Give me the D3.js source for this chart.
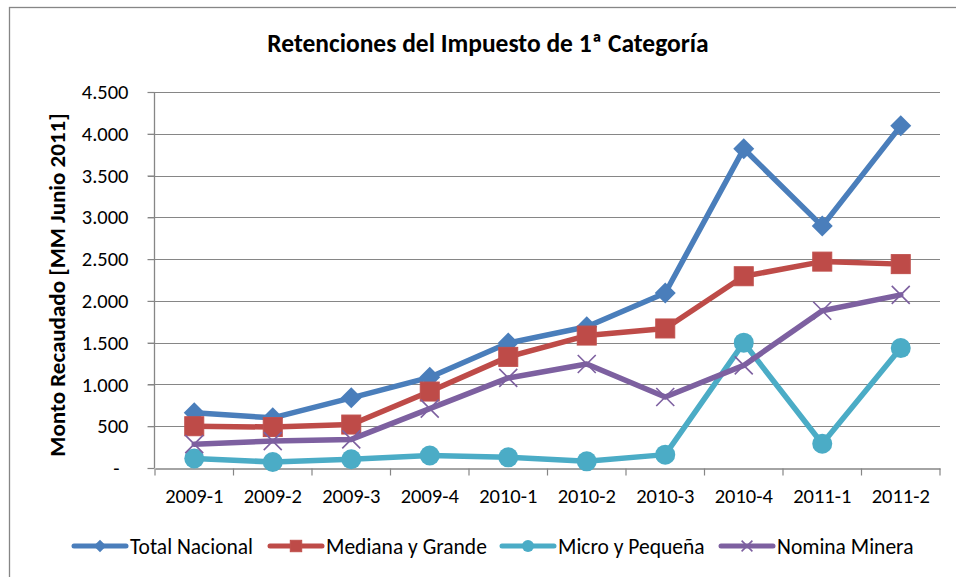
<!DOCTYPE html>
<html lang="es">
<head>
<meta charset="utf-8">
<title>Retenciones del Impuesto de 1ª Categoría</title>
<script src="https://cdn.jsdelivr.net/npm/d3@7"></script>
<style>
  body { margin: 0; background: #fff; }
  text { font-family: Carlito, Calibri, Lato, "Open Sans", sans-serif; fill: #000; }
</style>
</head>
<body>
<script>
// datos
var periodos = ["2009-1", "2009-2", "2009-3", "2009-4", "2010-1", "2010-2", "2010-3", "2010-4", "2011-1", "2011-2"];
var totalNacional   = [660, 600, 840, 1085, 1495, 1690, 2095, 3820, 2895, 4095];
var medianaGrande   = [500, 490, 520, 915, 1330, 1585, 1670, 2295, 2470, 2440];
var microPequena    = [115, 72, 105, 150, 128, 80, 160, 1500, 290, 1435];
var nominaMinera    = [285, 322, 342, 710, 1078, 1245, 850, 1228, 1882, 2072];
var ticksY = [0, 500, 1000, 1500, 2000, 2500, 3000, 3500, 4000, 4500];

var series = [
  { nombre: "Total Nacional",  valores: totalNacional, color: "#4A7EBB", marca: "diamante" },
  { nombre: "Mediana y Grande", valores: medianaGrande, color: "#BE4B48", marca: "cuadrado" },
  { nombre: "Micro y Pequeña", valores: microPequena,  color: "#4BACC6", marca: "circulo" },
  { nombre: "Nomina Minera",   valores: nominaMinera,  color: "#7D60A0", marca: "cruz" }
];

var width = 956, height = 577;
var margin = { left: 155, right: 16, top: 92, bottom: 109 };

var svg = d3.select("body").append("svg")
    .attr("width", width)
    .attr("height", height);

// marco del grafico
svg.append("rect")
    .attr("x", 9.5).attr("y", 7.5)
    .attr("width", width + 10).attr("height", height + 10)
    .attr("fill", "none")
    .attr("stroke", "#868686")
    .attr("stroke-width", 1.3);

var x = d3.scaleBand()
    .domain(periodos)
    .range([margin.left, width - margin.right]);

var y = d3.scaleLinear()
    .domain([0, 4500])
    .range([height - margin.bottom, margin.top]);

// titulo
svg.append("text")
    .attr("x", 488).attr("y", 52)
    .attr("text-anchor", "middle")
    .attr("font-size", "25.5px")
    .attr("font-weight", "bold")
    .text("Retenciones del Impuesto de 1ª Categoría");

// lineas de grilla
svg.append("g")
    .selectAll("line")
    .data(ticksY.slice(1))
    .join("line")
    .attr("x1", margin.left - 7).attr("x2", width - margin.right)
    .attr("y1", function(d) { return Math.round(y(d)) + 0.5; })
    .attr("y2", function(d) { return Math.round(y(d)) + 0.5; })
    .attr("stroke", "#868686")
    .attr("stroke-width", 1.2);

// eje y
var ejeY = svg.append("g")
    .attr("transform", "translate(" + (margin.left - 0.5) + ",0)")
    .call(d3.axisLeft(y)
        .tickValues(ticksY)
        .tickSize(7)
        .tickPadding(19)
        .tickFormat(function(d) { return d === 0 ? "-" : d3.format(",")(d).replace(/,/g, "."); }));
ejeY.select(".domain").attr("stroke", "#868686").attr("stroke-width", 1.3).attr("d", "M0," + y(4500) + "V" + y(0));
ejeY.selectAll(".tick line").attr("stroke", "#868686").attr("stroke-width", 1.2);
ejeY.selectAll("text").attr("font-size", "20.5px")
    .attr("dx", function(d) { return d === 0 ? -9 : 0; });

// eje x
var ejeX = svg.append("g")
    .attr("transform", "translate(0," + (Math.round(y(0)) + 0.5) + ")")
    .call(d3.axisBottom(x).tickSize(0).tickPadding(20));
ejeX.select(".domain").attr("stroke", "#868686").attr("stroke-width", 1.3);
ejeX.selectAll("text").attr("font-size", "20.5px");
ejeX.selectAll(".marca")
    .data(d3.range(periodos.length + 1))
    .join("line")
    .attr("class", "marca")
    .attr("x1", function(i) { return margin.left + i * x.step(); })
    .attr("x2", function(i) { return margin.left + i * x.step(); })
    .attr("y1", 0).attr("y2", 7)
    .attr("stroke", "#868686")
    .attr("stroke-width", 1.2);

// titulo eje y
svg.append("text")
    .attr("transform", "translate(65,285) rotate(-90)")
    .attr("text-anchor", "middle")
    .attr("font-size", "23px")
    .attr("font-weight", "bold")
    .text("Monto Recaudado [MM Junio 2011]");

function dibujarMarca(g, tipo, color, escala) {
  escala = escala || 1;
  if (tipo === "diamante") {
    var s = 10.5 * escala;
    g.append("path").attr("d", "M0," + (-s) + "L" + s + ",0L0," + s + "L" + (-s) + ",0Z").attr("fill", color);
  } else if (tipo === "cuadrado") {
    var q = 9.5 * escala;
    g.append("rect").attr("x", -q).attr("y", -q).attr("width", 2 * q).attr("height", 2 * q)
      .attr("fill", color).attr("stroke", "#C0504D").attr("stroke-width", 1);
  } else if (tipo === "circulo") {
    g.append("circle").attr("r", 10 * escala).attr("fill", color);
  } else {
    var c = 9 * escala;
    g.append("path").attr("d", "M" + (-c) + "," + (-c) + "L" + c + "," + c + "M" + (-c) + "," + c + "L" + c + "," + (-c))
      .attr("stroke", color).attr("stroke-width", 1.6).attr("fill", "none");
  }
}

var linea = d3.line()
    .x(function(d, i) { return x(periodos[i]) + x.bandwidth() / 2; })
    .y(function(d) { return y(d); });

series.forEach(function(s) {
  var g = svg.append("g");
  g.append("path")
    .datum(s.valores)
    .attr("d", linea)
    .attr("fill", "none")
    .attr("stroke", s.color)
    .attr("stroke-width", 5.5)
    .attr("stroke-linejoin", "round")
    .attr("stroke-linecap", "round");
  s.valores.forEach(function(v, i) {
    var m = g.append("g")
      .attr("transform", "translate(" + (x(periodos[i]) + x.bandwidth() / 2) + "," + y(v) + ")");
    dibujarMarca(m, s.marca, s.color, 1);
  });
});

// leyenda
var posLeyenda = [72, 268, 500, 719];
var leyenda = svg.append("g").attr("transform", "translate(0,546)");
series.forEach(function(s, i) {
  var g = leyenda.append("g").attr("transform", "translate(" + posLeyenda[i] + ",0)");
  g.append("line")
    .attr("x1", 2).attr("x2", 54)
    .attr("stroke", s.color).attr("stroke-width", 5).attr("stroke-linecap", "round");
  var m = g.append("g").attr("transform", "translate(28,0)");
  dibujarMarca(m, s.marca, s.color, 0.6);
  g.append("text")
    .attr("x", 58).attr("y", 7.5)
    .attr("font-size", "21.5px")
    .text(s.nombre);
});
</script>
</body>
</html>
